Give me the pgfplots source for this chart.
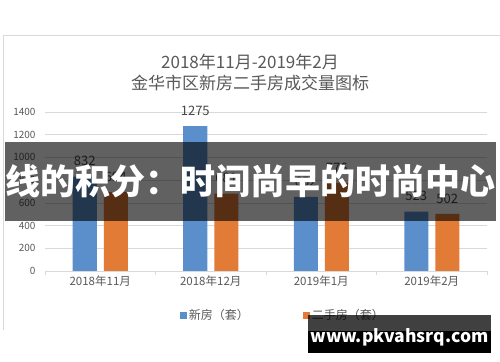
\documentclass[border=0pt]{standalone}
\usepackage{pgfplots}
\pgfplotsset{compat=1.18}
\usepackage{fontspec}
\setmainfont{Noto Sans CJK SC}
\definecolor{cblue}{HTML}{5B8FCB}
\definecolor{corange}{HTML}{E17B35}
\definecolor{tgray}{HTML}{595959}
\definecolor{lgray}{HTML}{D9D9D9}
\begin{document}
\begin{tikzpicture}
\path[use as bounding box] (0bp,0bp) rectangle (500bp,362bp);
\fill[white] (0bp,0bp) rectangle (500bp,362bp);
\draw[lgray, line width=0.8bp] (3bp,32bp) -- (3bp,327bp) -- (500bp,327bp);
\node[text=tgray, font=\fontsize{17bp}{19bp}\selectfont] at (250bp,300bp) {2018年11月-2019年2月};
\node[text=tgray, font=\fontsize{17bp}{19bp}\selectfont] at (250bp,279bp) {金华市区新房二手房成交量图标};
\begin{axis}[
  at={(45bp,91bp)}, anchor=south west,
  scale only axis, width=442bp, height=159bp,
  xmin=-0.5, xmax=3.5, ymin=0, ymax=1400,
  ytick={0,200,...,1400},
  ymajorgrids, grid style={draw=lgray, line width=0.7bp},
  axis x line*=bottom, axis y line*=left,
  y axis line style={draw=none},
  x axis line style={draw=lgray, line width=0.8bp, -},
  ytick style={draw=none},
  xtick={-0.5,0.5,1.5,2.5,3.5}, xticklabels={},
  xtick style={draw=lgray, line width=0.8bp},
  tick align=outside, major tick length=4bp,
  extra x ticks={0,1,2,3},
  extra x tick labels={2018年11月,2018年12月,2019年1月,2019年2月},
  extra x tick style={major tick length=0pt, ymajorgrids=false},
  /pgf/number format/assume math mode=true,
  /pgf/number format/1000 sep={},
  yticklabel style={font=\fontsize{10bp}{12bp}\selectfont, text=tgray, xshift=-2bp},
  xticklabel style={font=\fontsize{11.5bp}{13bp}\selectfont, text=tgray, yshift=-1bp},
  ybar=7bp, bar width=24bp,
  nodes near coords,
  nodes near coords style={font=\fontsize{13bp}{15bp}\selectfont, text=tgray!80!black, yshift=7bp},
  legend columns=2,
  legend style={at={(0.538,-0.277)}, anchor=center, draw=none, fill=none,
     font=\fontsize{12bp}{14bp}\selectfont, text=tgray,
     /tikz/every even column/.append style={column sep=52bp}},
  legend image code/.code={\fill[#1] (0bp,-3.5bp) rectangle (7bp,3.5bp);},
]
\addplot[fill=cblue, draw=none] coordinates {(0,832) (1,1275) (2,652) (3,523)};
\addlegendentry{新房（套）}
\addplot[fill=corange, draw=none] coordinates {(0,694) (1,681) (2,776) (3,502)};
\addlegendentry{二手房（套）}
\end{axis}
\fill[black, opacity=0.62] (5bp,141bp) rectangle (496bp,220bp);
\node[text=white, font=\bfseries\fontsize{35bp}{38bp}\selectfont] at (250bp,181bp) {线的积分：时间尚早的时尚中心};
\fill[black, opacity=0.75] (308bp,31bp) rectangle (491bp,47bp);
\fill[black] (308bp,9bp) rectangle (491bp,31bp);
\node[text=white, font=\bfseries\fontsize{17.5bp}{20bp}\selectfont] at (399.5bp,25bp) {www.pkvahsrq.com};
\end{tikzpicture}
\end{document}
